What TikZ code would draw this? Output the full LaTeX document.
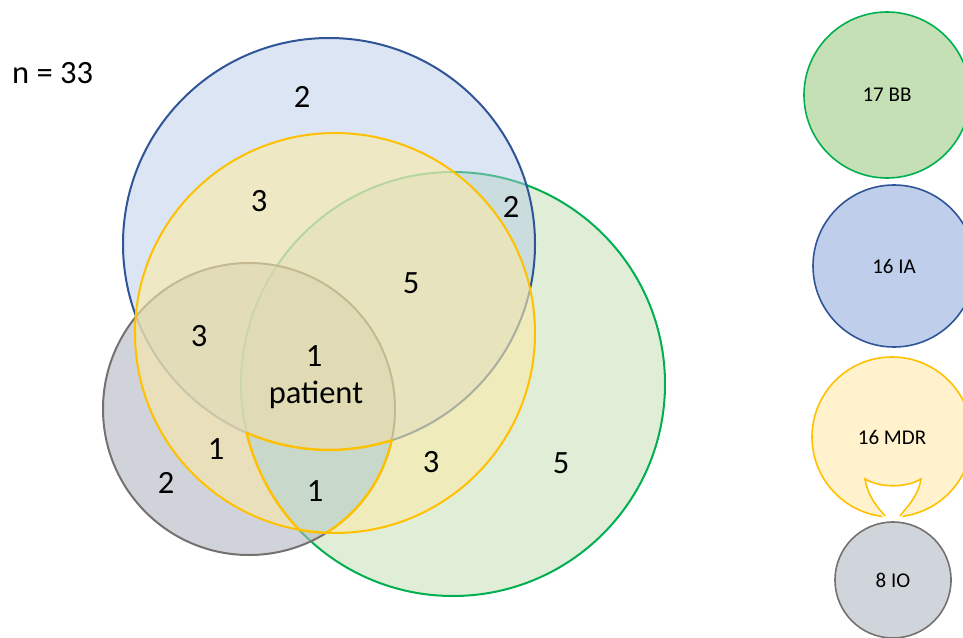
\documentclass[tikz,border=0pt]{standalone}
\usepackage{fontspec}
\setmainfont{Carlito}
\definecolor{bbline}{HTML}{00B050}
\definecolor{bbfill}{HTML}{C5E0B4}
\definecolor{ialine}{HTML}{2F5597}
\definecolor{iafill}{HTML}{B4C7E7}
\definecolor{mdrline}{HTML}{FFC000}
\definecolor{mdrfill}{HTML}{FAEAA7}
\definecolor{mdrleg}{HTML}{FFF2CC}
\definecolor{ioline}{HTML}{767171}
\definecolor{iofill}{HTML}{B1B7C1}
\definecolor{ioleg}{HTML}{D0D4DB}
\definecolor{lensfill}{HTML}{C8D9CB}
\begin{document}
\begin{tikzpicture}[x=1pt,y=-1pt,
  vennc/.style={circle, line width=2pt, inner sep=0pt, outer sep=0pt},
  lbl/.style={font=\fontsize{32.5}{38}\selectfont, inner sep=0pt},
  leg/.style={circle, line width=1.6pt, inner sep=0pt, outer sep=0pt, font=\fontsize{21}{25}\selectfont},
  lensline/.style={draw=mdrline, line width=2.4pt, line join=round}]
\useasboundingbox (0,0) rectangle (963,637);
\fill[white] (0,0) rectangle (963,637);
% Venn circles (bottom to top)
\node[vennc, draw=bbline, fill=bbfill, fill opacity=0.52, minimum size=424pt] (bb) at (453,384) {};
\node[vennc, draw=ialine, fill=iafill, fill opacity=0.46, minimum size=412pt] (ia) at (329,244) {};
\node[vennc, draw=ioline, fill=iofill, fill opacity=0.6, minimum size=292pt] (io) at (249,409) {};
\node[vennc, draw=mdrline, fill=mdrfill, fill opacity=0.6, minimum size=400pt] (mdr) at (335,333) {};
% highlighted region IO & BB & MDR without IA
\draw[lensline, fill=lensfill] (246.7,432.8)
  arc[start angle=113.55, end angle=72.31, radius=206]
  arc[start angle=12.38, end angle=57.99, radius=146]
  arc[start angle=92.46, end angle=100.37, radius=200]
  arc[start angle=136.58, end angle=166.69, radius=212] -- cycle;
% labels
\node[lbl, anchor=west] (n) at (12,73) {n = 33};
\node[lbl] (l1) at (302,97) {2};
\node[lbl] (l2) at (259,201) {3};
\node[lbl] (l3) at (511,207) {2};
\node[lbl] (l4) at (411,283) {5};
\node[lbl] (l5) at (199,336) {3};
\node[lbl] (l6) at (314,356) {1};
\node[lbl] (l7) at (316,395) {patient};
\node[lbl] (l8) at (216,449) {1};
\node[lbl] (l9) at (166,483) {2};
\node[lbl] (l10) at (315,491) {1};
\node[lbl] (l11) at (431,462) {3};
\node[lbl] (l12) at (561,463) {5};
% legend
\node[leg, draw=bbline, fill=bbfill, minimum size=166pt] (lbb) at (887,95) {17 BB};
\node[leg, draw=ialine, fill=iafill!85!white, minimum size=162pt] (lia) at (894,266) {16 IA};
\node[leg, draw=mdrline, fill=mdrleg, minimum size=160pt] (lmdr) at (892,437) {};
\fill[white] (865,479) .. controls (880,488) and (906,488) .. (921,479) .. controls (918,497) and (906,510) .. (900,520) -- (885,520) .. controls (878,510) and (868,497) .. (865,479) -- cycle;
\draw[mdrline, line width=1.6pt] (885,516) .. controls (878,508) and (868,497) .. (865,479) .. controls (880,488) and (906,488) .. (921,479) .. controls (918,497) and (906,508) .. (900,516);
\node[font=\fontsize{21}{25}\selectfont, inner sep=0pt] (tmdr) at (892,437) {16 MDR};
\node[leg, draw=ioline, fill=ioleg, minimum size=116pt] (lio) at (893,580) {8 IO};
\end{tikzpicture}
\end{document}
